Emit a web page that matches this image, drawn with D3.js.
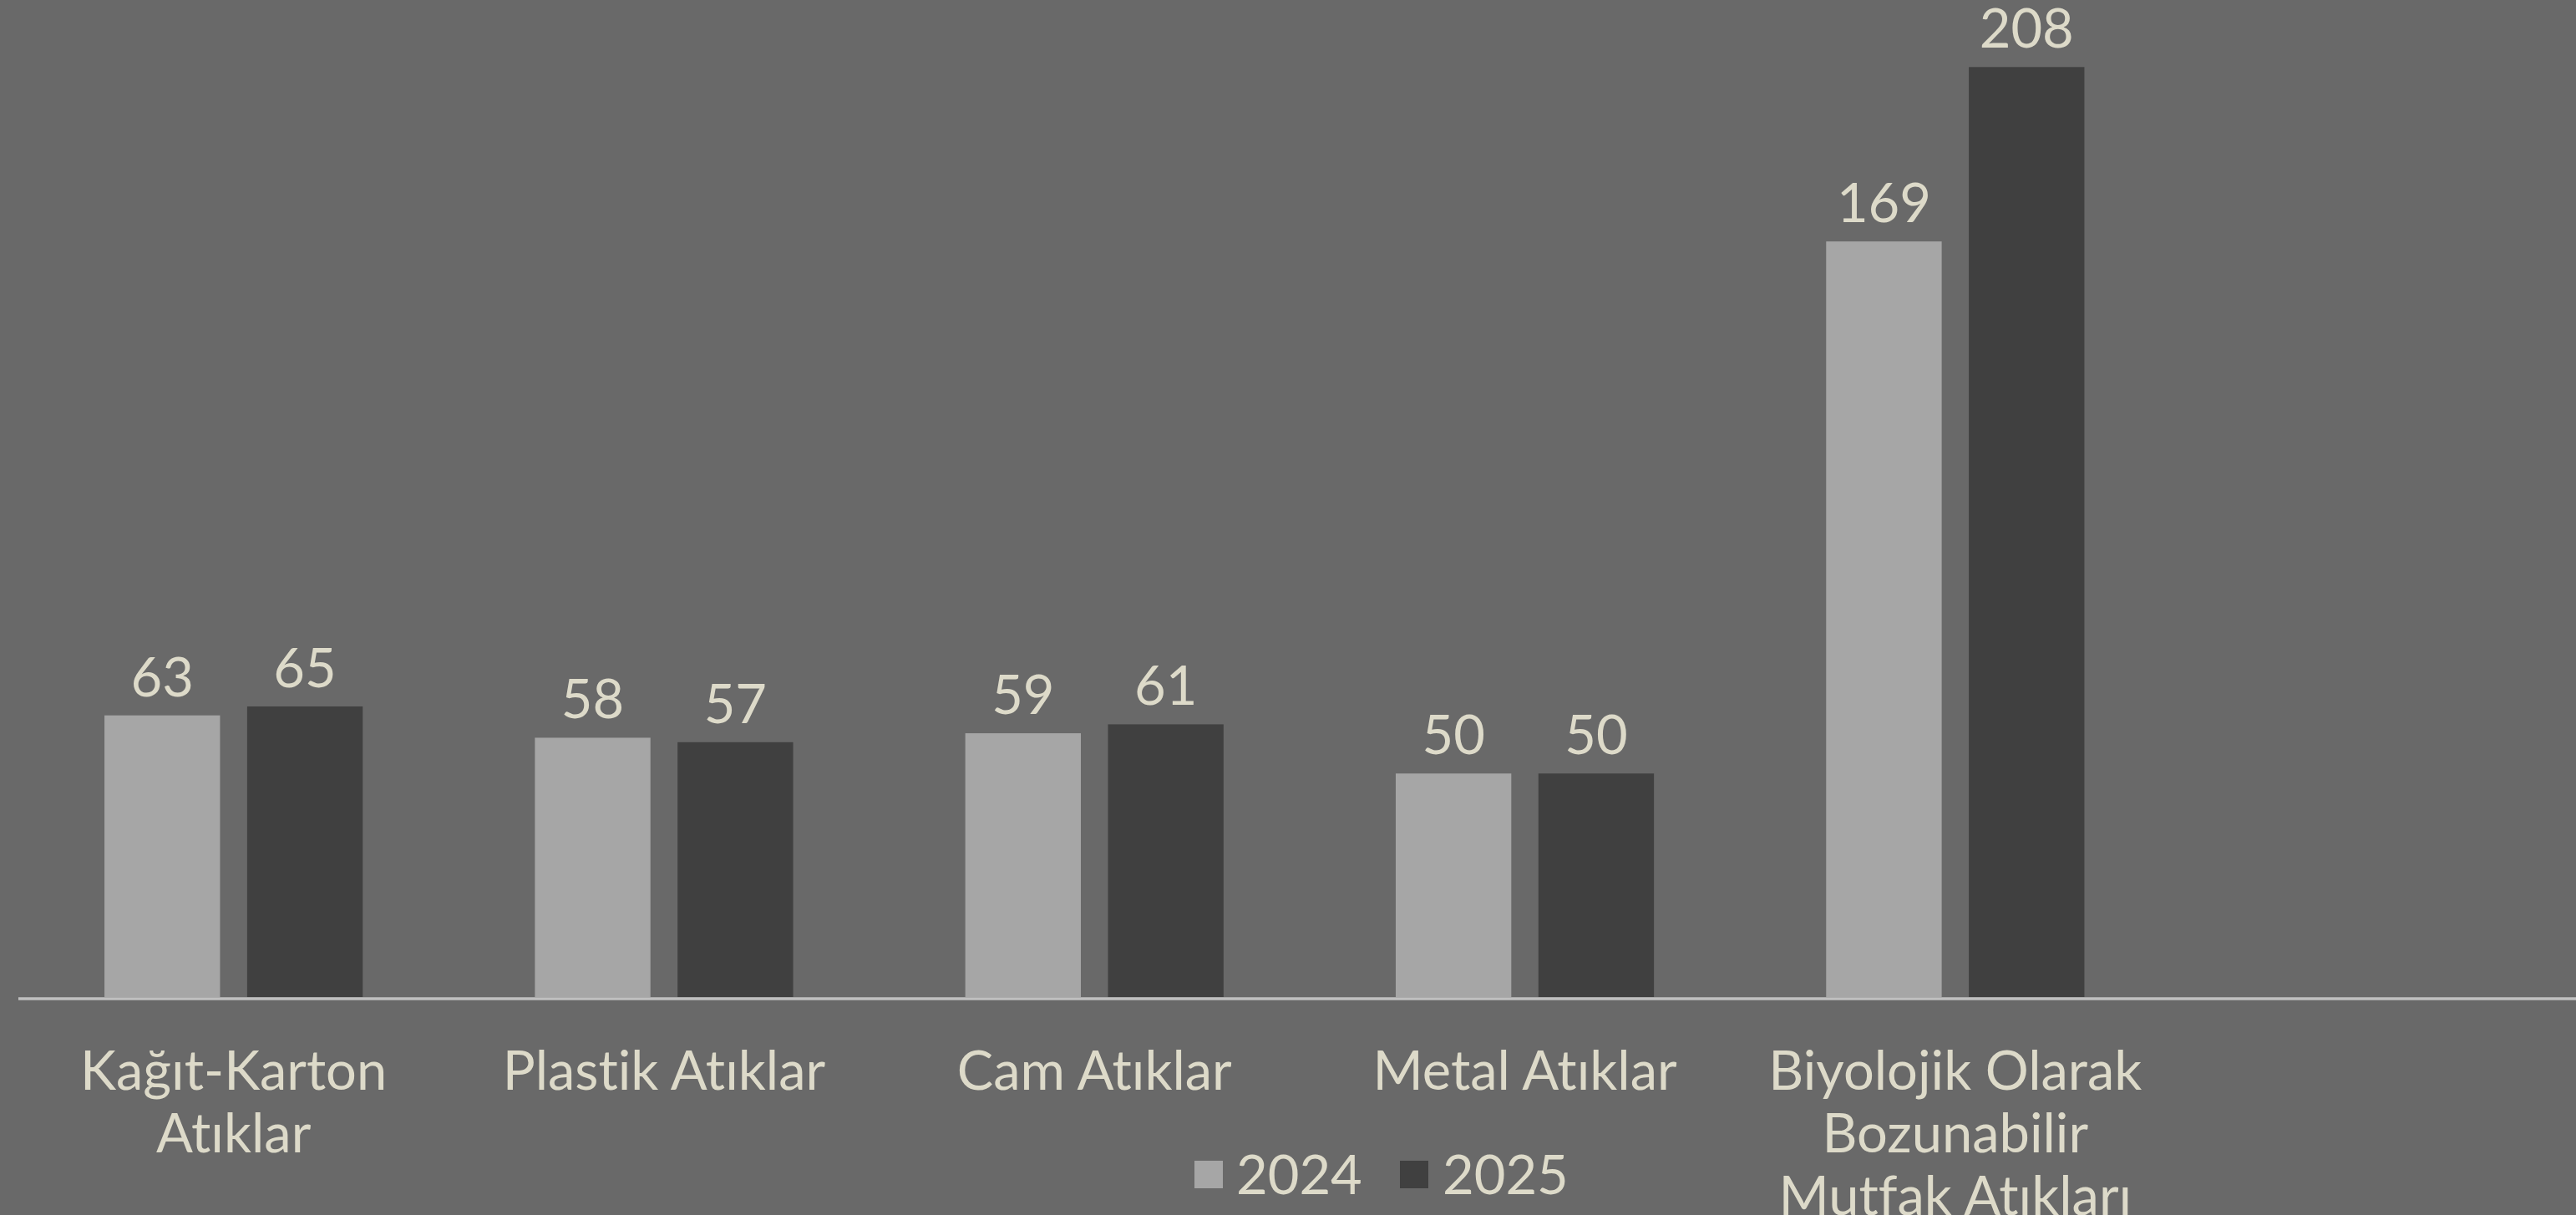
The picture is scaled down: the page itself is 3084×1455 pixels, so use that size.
<!DOCTYPE html>
<html>
<head>
<meta charset="utf-8">
<script src="https://cdn.jsdelivr.net/npm/d3@7"></script>
<style>
    html, body { margin: 0; padding: 0; background: #696969; overflow: hidden; }
    svg { display: block; font-family: Lato, "Open Sans", sans-serif; font-variant-ligatures: none; font-feature-settings: "liga" 0, "clig" 0; }
</style>
</head>
<body>
<div id="chart"></div>
<script>
// veriler
const categories = [
    "Kağıt-Karton\nAtıklar",
    "Plastik Atıklar",
    "Cam Atıklar",
    "Metal Atıklar",
    "Biyolojik Olarak\nBozunabilir\nMutfak Atıkları"
];
const years = ["2024", "2025"];
const values2024 = [63, 58, 59, 50, 169];
const values2025 = [65, 57, 61, 50, 208];

const width = 3084;
const height = 1455;
const textColor = "#dddac9";
const colors = { "2024": "#a6a6a6", "2025": "#404040" };
const fontSize = 65;

const svg = d3.select("#chart")
    .append("svg")
    .attr("width", width)
    .attr("height", height);

svg.append("rect")
    .attr("width", width)
    .attr("height", height)
    .attr("fill", "#696969");

const baseY = 1194;

const x = d3.scaleBand()
    .domain(categories)
    .range([22, 2598.5])
    .paddingInner(0.4)
    .paddingOuter(0.2);

const xs = d3.scaleBand()
    .domain(years)
    .range([0, x.bandwidth()])
    .paddingInner(0.19);

const y = d3.scaleLinear()
    .domain([0, 223])
    .range([baseY, 0]);

const rows = categories.map((c, i) => ({ cat: c, "2024": values2024[i], "2025": values2025[i] }));

const groups = svg.selectAll("g.group")
    .data(rows)
    .enter()
    .append("g")
    .attr("class", "group")
    .attr("transform", d => `translate(${x(d.cat)}, 0)`);

years.forEach(yr => {
    groups.append("rect")
        .attr("x", xs(yr))
        .attr("y", d => y(d[yr]))
        .attr("width", xs.bandwidth())
        .attr("height", d => baseY - y(d[yr]))
        .attr("fill", colors[yr]);

    groups.append("text")
        .attr("x", xs(yr) + xs.bandwidth() / 2)
        .attr("y", d => y(d[yr]) - 23)
        .attr("text-anchor", "middle")
        .attr("fill", textColor)
        .attr("font-size", fontSize)
        .text(d => d[yr]);
});

// eksen çizgisi
svg.append("line")
    .attr("x1", 22)
    .attr("x2", width)
    .attr("y1", baseY + 2)
    .attr("y2", baseY + 2)
    .attr("stroke", "#c0c0c0")
    .attr("stroke-width", 3.5);

// kategori etiketleri
const axis = svg.append("g")
    .attr("transform", `translate(0, ${baseY})`)
    .call(d3.axisBottom(x).tickSize(0).tickPadding(0));
axis.select(".domain").remove();
axis.selectAll(".tick text")
    .attr("fill", textColor)
    .attr("font-size", fontSize)
    .attr("font-family", "Lato, sans-serif")
    .attr("dy", null)
    .attr("y", 0)
    .each(function (d) {
        const t = d3.select(this);
        t.text(null);
        d.split("\n").forEach((line, i) => {
            t.append("tspan")
                .attr("x", 0)
                .attr("y", 111 + i * 75)
                .text(line);
        });
    });

// lejant
const legendItems = [
    { key: "2024", sx: 1430, tx: 1480 },
    { key: "2025", sx: 1676, tx: 1727 }
];
const legend = svg.append("g");
legendItems.forEach(it => {
    legend.append("rect")
        .attr("x", it.sx)
        .attr("y", 1390)
        .attr("width", 34)
        .attr("height", 33)
        .attr("fill", colors[it.key]);
    legend.append("text")
        .attr("x", it.tx)
        .attr("y", 1430)
        .attr("fill", textColor)
        .attr("font-size", fontSize)
        .text(it.key);
});
</script>
</body>
</html>
